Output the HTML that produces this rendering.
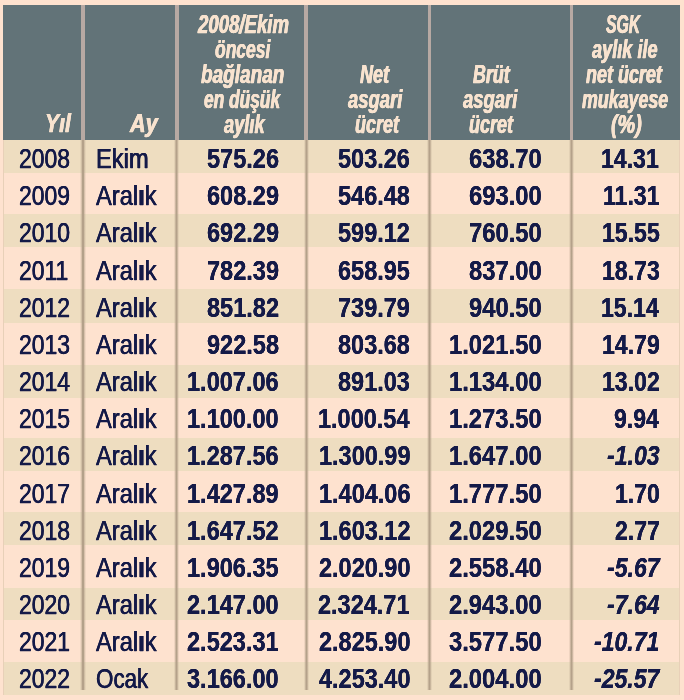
<!DOCTYPE html>
<html lang="tr"><head><meta charset="utf-8"><title>Asgari ücret ve SGK aylık karşılaştırması</title>
<style>
html,body{margin:0;padding:0}
body{width:684px;height:700px;background:#fee2cf;overflow:hidden;position:relative;font-family:"Liberation Sans", sans-serif;}
.b{position:absolute}
.t{position:absolute;white-space:nowrap;line-height:28.5px;font-size:28.5px;color:#141a48;height:28.5px;transform-origin:0 0;-webkit-text-stroke:0.25px #141a48;text-shadow:0.35px 0 0 #141a48,-0.35px 0 0 #141a48}
.h{position:absolute;white-space:nowrap;line-height:25px;font-size:25px;color:#f8e3cf;font-weight:700;font-style:italic;height:25px;transform-origin:0 0;-webkit-text-stroke:0.25px #f8e3cf;text-shadow:0.4px 0 0 #f8e3cf,-0.4px 0 0 #f8e3cf}
.bd{font-weight:700;-webkit-text-stroke-width:0.0px;text-shadow:0.0px 0 0 #141a48,-0.0px 0 0 #141a48}.it{font-style:italic}
#w{position:absolute;left:0;top:0;width:684px;height:700px;filter:blur(0.5px)}
</style></head><body><div id="w">
<div class="b" style="left:2.8px;top:139.50px;width:676.2px;height:33.30px;background:#eeddc0"></div>
<div class="b" style="left:2.8px;top:213.70px;width:676.2px;height:33.00px;background:#eeddc0"></div>
<div class="b" style="left:2.8px;top:289.10px;width:676.2px;height:33.90px;background:#eeddc0"></div>
<div class="b" style="left:2.8px;top:365.00px;width:676.2px;height:32.60px;background:#eeddc0"></div>
<div class="b" style="left:2.8px;top:437.90px;width:676.2px;height:32.90px;background:#eeddc0"></div>
<div class="b" style="left:2.8px;top:512.40px;width:676.2px;height:32.20px;background:#eeddc0"></div>
<div class="b" style="left:2.8px;top:587.90px;width:676.2px;height:32.10px;background:#eeddc0"></div>
<div class="b" style="left:2.8px;top:661.60px;width:676.2px;height:33.80px;background:#eeddc0"></div>
<div class="b" style="left:2.5px;top:139.6px;width:1.5px;height:555.40px;background:#e8d0b8"></div>
<div class="b" style="left:678.5px;top:139.6px;width:1.5px;height:555.40px;background:#e8d0b8"></div>
<div class="b" style="left:80.20px;top:139.6px;width:5.6px;height:550.90px;background:linear-gradient(90deg,rgba(180,161,138,0),rgba(180,161,138,.5) 25%,rgba(180,161,138,1) 40%,rgba(180,161,138,1) 60%,rgba(180,161,138,.5) 75%,rgba(180,161,138,0))"></div>
<div class="b" style="left:173.80px;top:139.6px;width:5.6px;height:550.90px;background:linear-gradient(90deg,rgba(180,161,138,0),rgba(180,161,138,.5) 25%,rgba(180,161,138,1) 40%,rgba(180,161,138,1) 60%,rgba(180,161,138,.5) 75%,rgba(180,161,138,0))"></div>
<div class="b" style="left:303.50px;top:139.6px;width:5.6px;height:550.90px;background:linear-gradient(90deg,rgba(180,161,138,0),rgba(180,161,138,.5) 25%,rgba(180,161,138,1) 40%,rgba(180,161,138,1) 60%,rgba(180,161,138,.5) 75%,rgba(180,161,138,0))"></div>
<div class="b" style="left:426.65px;top:139.6px;width:5.6px;height:550.90px;background:linear-gradient(90deg,rgba(180,161,138,0),rgba(180,161,138,.5) 25%,rgba(180,161,138,1) 40%,rgba(180,161,138,1) 60%,rgba(180,161,138,.5) 75%,rgba(180,161,138,0))"></div>
<div class="b" style="left:568.80px;top:139.6px;width:5.6px;height:550.90px;background:linear-gradient(90deg,rgba(180,161,138,0),rgba(180,161,138,.5) 25%,rgba(180,161,138,1) 40%,rgba(180,161,138,1) 60%,rgba(180,161,138,.5) 75%,rgba(180,161,138,0))"></div>
<div class="b" style="left:2.8px;top:4.5px;width:677.2px;height:135.10px;background:#627378"></div>
<div class="b" style="left:81px;top:4.5px;width:4.00px;height:135.10px;background:#b7a9a3"></div>
<div class="b" style="left:174.6px;top:4.5px;width:4.00px;height:135.10px;background:#b7a9a3"></div>
<div class="b" style="left:304.2px;top:4.5px;width:4.20px;height:135.10px;background:#b7a9a3"></div>
<div class="b" style="left:428.0px;top:4.5px;width:2.90px;height:135.10px;background:#b7a9a3"></div>
<div class="b" style="left:570px;top:4.5px;width:3.20px;height:135.10px;background:#b7a9a3"></div>
<div class="h" style="font-size:26.5px;line-height:26.5px;height:26.5px;left:44.60px;top:110.27px;transform:scaleX(0.8000)">Yıl</div>
<div class="h" style="font-size:26.5px;line-height:26.5px;height:26.5px;left:129.61px;top:110.27px;transform:scaleX(0.8167)">Ay</div>
<div class="h" style="left:197.56px;top:12.34px;transform:scaleX(0.7437)">2008/Ekim</div>
<div class="h" style="left:215.25px;top:37.19px;transform:scaleX(0.6981)">öncesi</div>
<div class="h" style="left:201.30px;top:62.04px;transform:scaleX(0.7596)">bağlanan</div>
<div class="h" style="left:204.45px;top:86.89px;transform:scaleX(0.6932)">en düşük</div>
<div class="h" style="left:224.28px;top:111.74px;transform:scaleX(0.7301)">aylık</div>
<div class="h" style="left:359.80px;top:62.04px;transform:scaleX(0.7229)">Net</div>
<div class="h" style="left:348.18px;top:86.89px;transform:scaleX(0.7385)">asgari</div>
<div class="h" style="left:354.66px;top:111.74px;transform:scaleX(0.7187)">ücret</div>
<div class="h" style="left:473.30px;top:62.04px;transform:scaleX(0.7143)">Brüt</div>
<div class="h" style="left:462.88px;top:86.89px;transform:scaleX(0.7371)">asgari</div>
<div class="h" style="left:469.36px;top:111.74px;transform:scaleX(0.7203)">ücret</div>
<div class="h" style="left:606.30px;top:12.34px;transform:scaleX(0.6304)">SGK</div>
<div class="h" style="left:591.58px;top:37.19px;transform:scaleX(0.7269)">aylık ile</div>
<div class="h" style="left:585.60px;top:62.04px;transform:scaleX(0.7185)">net ücret</div>
<div class="h" style="left:582.40px;top:86.89px;transform:scaleX(0.7130)">mukayese</div>
<div class="h" style="left:611.10px;top:111.74px;transform:scaleX(0.7921)">(%)</div>
<div class="t" style="left:18.80px;top:144.17px;transform:scaleX(0.8049)">2008</div>
<div class="t" style="left:95.94px;top:144.17px;transform:scaleX(0.8313)">Ekim</div>
<div class="t bd" style="left:206.78px;top:144.17px;transform:scaleX(0.8257)">575.26</div>
<div class="t bd" style="left:338.08px;top:144.17px;transform:scaleX(0.8246)">503.26</div>
<div class="t bd" style="left:469.16px;top:144.17px;transform:scaleX(0.8353)">638.70</div>
<div class="t bd" style="left:601.48px;top:144.17px;transform:scaleX(0.8101)">14.31</div>
<div class="t" style="left:18.80px;top:181.32px;transform:scaleX(0.8049)">2009</div>
<div class="t" style="left:96.21px;top:181.32px;transform:scaleX(0.8313)">Aral<b>ı</b>k</div>
<div class="t bd" style="left:206.78px;top:181.32px;transform:scaleX(0.8257)">608.29</div>
<div class="t bd" style="left:338.08px;top:181.32px;transform:scaleX(0.8246)">546.48</div>
<div class="t bd" style="left:469.16px;top:181.32px;transform:scaleX(0.8353)">693.00</div>
<div class="t bd" style="left:602.90px;top:181.32px;transform:scaleX(0.8101)">11.31</div>
<div class="t" style="left:18.80px;top:218.47px;transform:scaleX(0.8049)">2010</div>
<div class="t" style="left:96.21px;top:218.47px;transform:scaleX(0.8313)">Aral<b>ı</b>k</div>
<div class="t bd" style="left:206.78px;top:218.47px;transform:scaleX(0.8257)">692.29</div>
<div class="t bd" style="left:338.29px;top:218.47px;transform:scaleX(0.8246)">599.12</div>
<div class="t bd" style="left:469.16px;top:218.47px;transform:scaleX(0.8353)">760.50</div>
<div class="t bd" style="left:601.68px;top:218.47px;transform:scaleX(0.8101)">15.55</div>
<div class="t" style="left:18.80px;top:255.62px;transform:scaleX(0.8049)">2011</div>
<div class="t" style="left:96.21px;top:255.62px;transform:scaleX(0.8313)">Aral<b>ı</b>k</div>
<div class="t bd" style="left:206.78px;top:255.62px;transform:scaleX(0.8257)">782.39</div>
<div class="t bd" style="left:337.88px;top:255.62px;transform:scaleX(0.8246)">658.95</div>
<div class="t bd" style="left:469.16px;top:255.62px;transform:scaleX(0.8353)">837.00</div>
<div class="t bd" style="left:601.68px;top:255.62px;transform:scaleX(0.8101)">18.73</div>
<div class="t" style="left:18.80px;top:292.77px;transform:scaleX(0.8049)">2012</div>
<div class="t" style="left:96.21px;top:292.77px;transform:scaleX(0.8313)">Aral<b>ı</b>k</div>
<div class="t bd" style="left:206.99px;top:292.77px;transform:scaleX(0.8257)">851.82</div>
<div class="t bd" style="left:338.08px;top:292.77px;transform:scaleX(0.8246)">739.79</div>
<div class="t bd" style="left:469.16px;top:292.77px;transform:scaleX(0.8353)">940.50</div>
<div class="t bd" style="left:601.08px;top:292.77px;transform:scaleX(0.8101)">15.14</div>
<div class="t" style="left:18.80px;top:329.92px;transform:scaleX(0.8049)">2013</div>
<div class="t" style="left:96.21px;top:329.92px;transform:scaleX(0.8313)">Aral<b>ı</b>k</div>
<div class="t bd" style="left:206.78px;top:329.92px;transform:scaleX(0.8257)">922.58</div>
<div class="t bd" style="left:338.08px;top:329.92px;transform:scaleX(0.8246)">803.68</div>
<div class="t bd" style="left:449.33px;top:329.92px;transform:scaleX(0.8353)">1.021.50</div>
<div class="t bd" style="left:601.89px;top:329.92px;transform:scaleX(0.8101)">14.79</div>
<div class="t" style="left:18.80px;top:367.07px;transform:scaleX(0.8049)">2014</div>
<div class="t" style="left:96.21px;top:367.07px;transform:scaleX(0.8313)">Aral<b>ı</b>k</div>
<div class="t bd" style="left:187.17px;top:367.07px;transform:scaleX(0.8257)">1.007.06</div>
<div class="t bd" style="left:338.08px;top:367.07px;transform:scaleX(0.8246)">891.03</div>
<div class="t bd" style="left:449.33px;top:367.07px;transform:scaleX(0.8353)">1.134.00</div>
<div class="t bd" style="left:601.89px;top:367.07px;transform:scaleX(0.8101)">13.02</div>
<div class="t" style="left:18.80px;top:404.22px;transform:scaleX(0.8049)">2015</div>
<div class="t" style="left:96.21px;top:404.22px;transform:scaleX(0.8313)">Aral<b>ı</b>k</div>
<div class="t bd" style="left:187.38px;top:404.22px;transform:scaleX(0.8257)">1.100.00</div>
<div class="t bd" style="left:317.88px;top:404.22px;transform:scaleX(0.8246)">1.000.54</div>
<div class="t bd" style="left:449.33px;top:404.22px;transform:scaleX(0.8353)">1.273.50</div>
<div class="t bd" style="left:613.84px;top:404.22px;transform:scaleX(0.8101)">9.94</div>
<div class="t" style="left:18.80px;top:441.37px;transform:scaleX(0.8049)">2016</div>
<div class="t" style="left:96.21px;top:441.37px;transform:scaleX(0.8313)">Aral<b>ı</b>k</div>
<div class="t bd" style="left:187.17px;top:441.37px;transform:scaleX(0.8257)">1.287.56</div>
<div class="t bd" style="left:318.50px;top:441.37px;transform:scaleX(0.8246)">1.300.99</div>
<div class="t bd" style="left:449.33px;top:441.37px;transform:scaleX(0.8353)">1.647.00</div>
<div class="t bd it" style="left:607.07px;top:441.37px;transform:scaleX(0.8101)">-1.03</div>
<div class="t" style="left:18.80px;top:478.52px;transform:scaleX(0.8049)">2017</div>
<div class="t" style="left:96.21px;top:478.52px;transform:scaleX(0.8313)">Aral<b>ı</b>k</div>
<div class="t bd" style="left:187.17px;top:478.52px;transform:scaleX(0.8257)">1.427.89</div>
<div class="t bd" style="left:318.50px;top:478.52px;transform:scaleX(0.8246)">1.404.06</div>
<div class="t bd" style="left:449.33px;top:478.52px;transform:scaleX(0.8353)">1.777.50</div>
<div class="t bd" style="left:614.85px;top:478.52px;transform:scaleX(0.8101)">1.70</div>
<div class="t" style="left:18.80px;top:515.67px;transform:scaleX(0.8049)">2018</div>
<div class="t" style="left:96.21px;top:515.67px;transform:scaleX(0.8313)">Aral<b>ı</b>k</div>
<div class="t bd" style="left:187.38px;top:515.67px;transform:scaleX(0.8257)">1.647.52</div>
<div class="t bd" style="left:318.70px;top:515.67px;transform:scaleX(0.8246)">1.603.12</div>
<div class="t bd" style="left:449.33px;top:515.67px;transform:scaleX(0.8353)">2.029.50</div>
<div class="t bd" style="left:614.85px;top:515.67px;transform:scaleX(0.8101)">2.77</div>
<div class="t" style="left:18.80px;top:552.82px;transform:scaleX(0.8049)">2019</div>
<div class="t" style="left:96.21px;top:552.82px;transform:scaleX(0.8313)">Aral<b>ı</b>k</div>
<div class="t bd" style="left:186.96px;top:552.82px;transform:scaleX(0.8257)">1.906.35</div>
<div class="t bd" style="left:318.70px;top:552.82px;transform:scaleX(0.8246)">2.020.90</div>
<div class="t bd" style="left:449.33px;top:552.82px;transform:scaleX(0.8353)">2.558.40</div>
<div class="t bd it" style="left:607.07px;top:552.82px;transform:scaleX(0.8101)">-5.67</div>
<div class="t" style="left:18.80px;top:589.97px;transform:scaleX(0.8049)">2020</div>
<div class="t" style="left:96.21px;top:589.97px;transform:scaleX(0.8313)">Aral<b>ı</b>k</div>
<div class="t bd" style="left:187.38px;top:589.97px;transform:scaleX(0.8257)">2.147.00</div>
<div class="t bd" style="left:318.29px;top:589.97px;transform:scaleX(0.8246)">2.324.71</div>
<div class="t bd" style="left:449.33px;top:589.97px;transform:scaleX(0.8353)">2.943.00</div>
<div class="t bd it" style="left:607.07px;top:589.97px;transform:scaleX(0.8101)">-7.64</div>
<div class="t" style="left:18.80px;top:627.12px;transform:scaleX(0.8049)">2021</div>
<div class="t" style="left:96.21px;top:627.12px;transform:scaleX(0.8313)">Aral<b>ı</b>k</div>
<div class="t bd" style="left:186.96px;top:627.12px;transform:scaleX(0.8257)">2.523.31</div>
<div class="t bd" style="left:318.70px;top:627.12px;transform:scaleX(0.8246)">2.825.90</div>
<div class="t bd" style="left:449.33px;top:627.12px;transform:scaleX(0.8353)">3.577.50</div>
<div class="t bd it" style="left:594.23px;top:627.12px;transform:scaleX(0.8101)">-10.71</div>
<div class="t" style="left:18.80px;top:664.27px;transform:scaleX(0.8049)">2022</div>
<div class="t" style="left:96.17px;top:664.27px;transform:scaleX(0.7856)">Ocak</div>
<div class="t bd" style="left:187.38px;top:664.27px;transform:scaleX(0.8257)">3.166.00</div>
<div class="t bd" style="left:318.70px;top:664.27px;transform:scaleX(0.8246)">4.253.40</div>
<div class="t bd" style="left:449.33px;top:664.27px;transform:scaleX(0.8353)">2.004.00</div>
<div class="t bd it" style="left:594.23px;top:664.27px;transform:scaleX(0.8101)">-25.57</div>
</div></body></html>
